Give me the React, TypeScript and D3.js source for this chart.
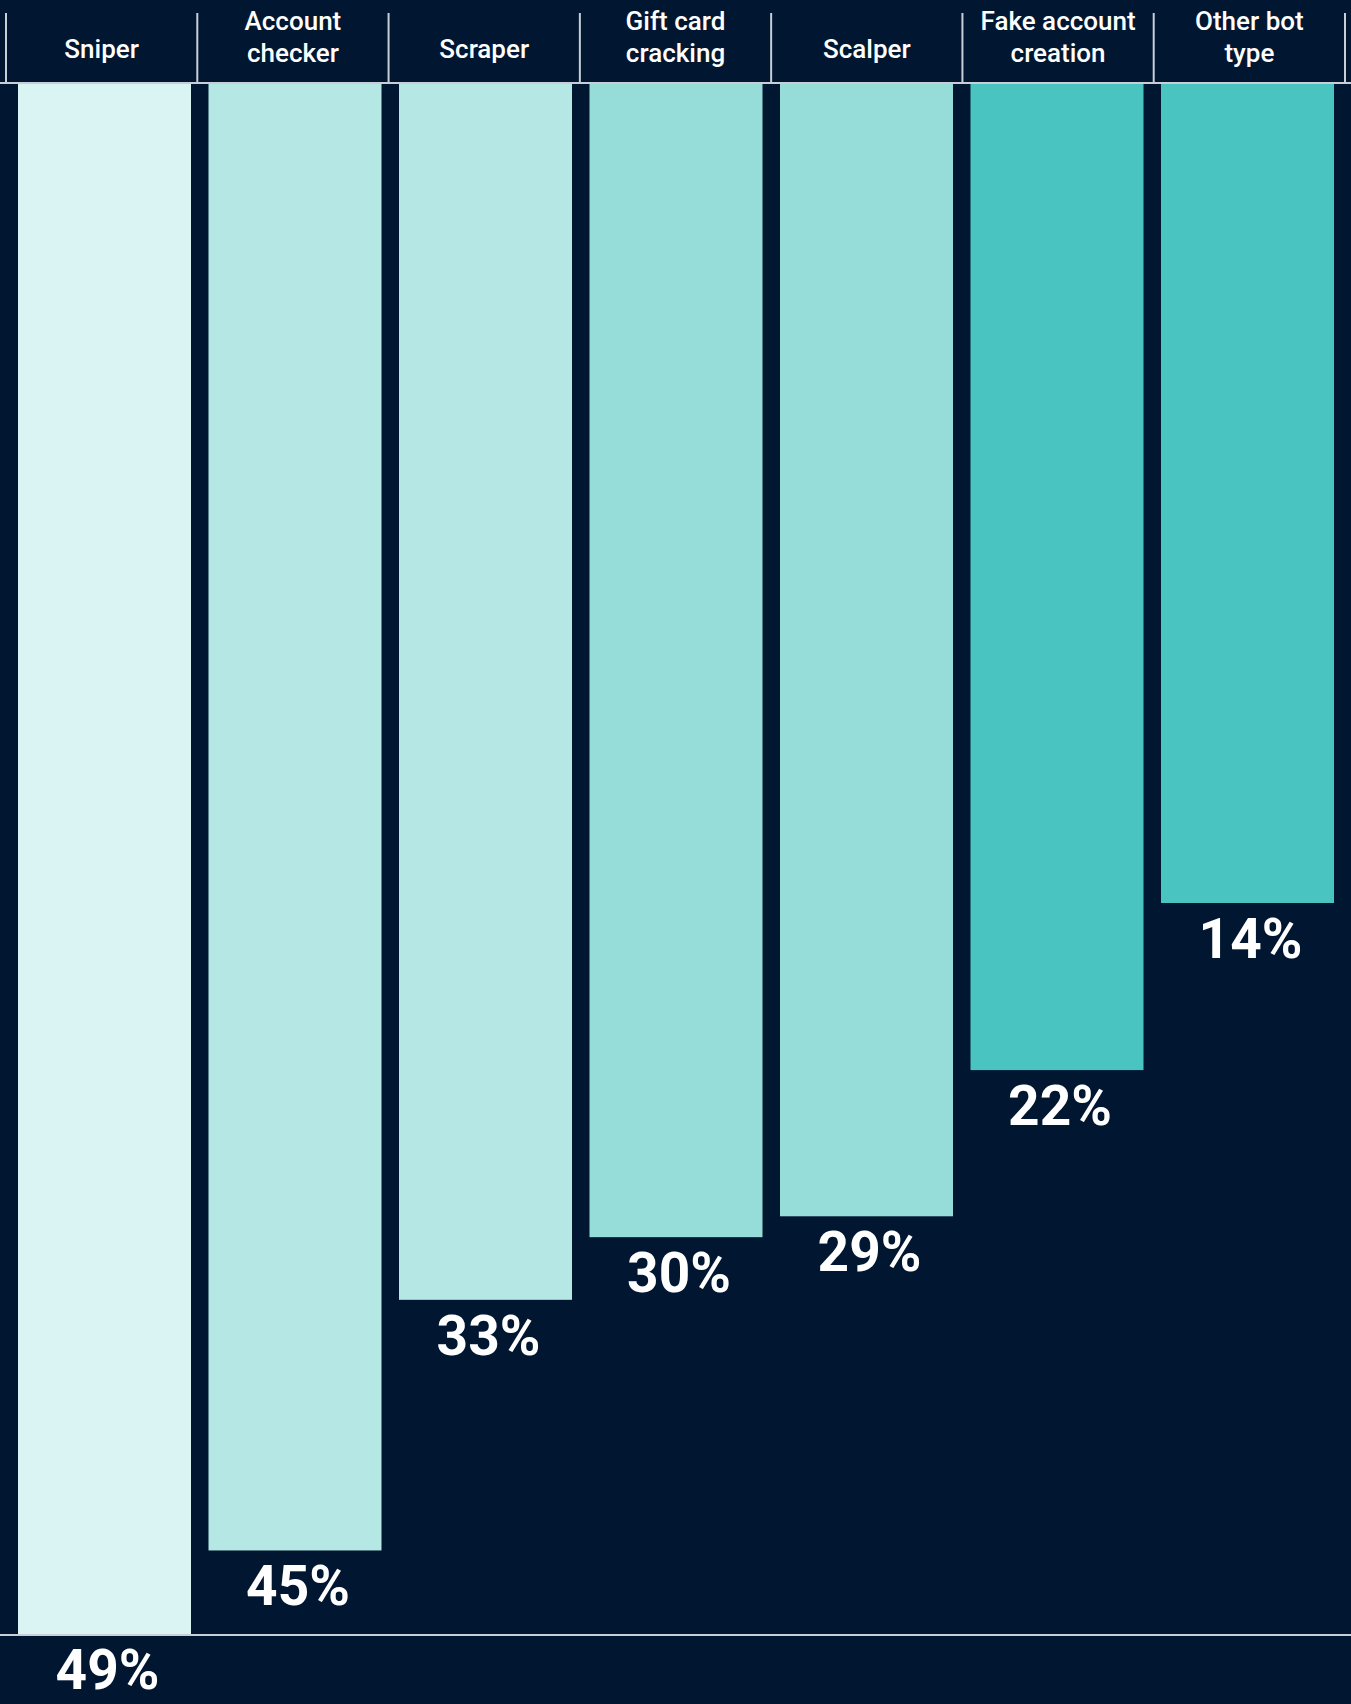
import React from "react";
import * as d3 from "d3";

const categories: string[] = [
  "Sniper",
  "Account\nchecker",
  "Scraper",
  "Gift card\ncracking",
  "Scalper",
  "Fake account\ncreation",
  "Other bot\ntype",
];
const values: number[] = [49, 45, 33, 30, 29, 22, 14];
const barColors: string[] = [
  "#DAF3F3",
  "#B5E7E4",
  "#B5E7E4",
  "#96DDD9",
  "#96DDD9",
  "#4AC4C0",
  "#4AC4C0",
];

const W = 1351;
const H = 1704;
const BG = "#011731";
const LINE = "#C9CFD6";
const headerTop = 13;
const headerBottom = 83;
const barTop = 84;
const baselineY = 1635;

export default function App() {
  const cols = d3.scaleBand<string>().domain(categories).range([6, 1345]).padding(0);
  const bars = d3
    .scaleBand<string>()
    .domain(categories)
    .range([9.25, 1342.75])
    .paddingInner(17.5 / 190.5)
    .paddingOuter(17.5 / 190.5 / 2);
  const y = d3.scaleLinear().domain([14, 49]).range([903, 1634]);

  const dividers = [...categories.map((c) => cols(c) as number), 1345];

  return (
    <svg
      width={W}
      height={H}
      style={{ position: "absolute", left: 0, top: 0, display: "block" }}
      fontFamily="Roboto, 'Noto Sans', sans-serif"
    >
      <rect x={0} y={0} width={W} height={H} fill={BG} />
      {/* header dividers */}
      {dividers.map((dx, i) => (
        <line key={"d" + i} x1={dx} x2={dx} y1={headerTop} y2={headerBottom} stroke={LINE} strokeWidth={2} />
      ))}
      <line x1={0} x2={W} y1={headerBottom} y2={headerBottom} stroke={LINE} strokeWidth={2} />
      {/* header labels */}
      {categories.map((c) => {
        const lines = c.split("\n");
        const cx = (cols(c) as number) + cols.bandwidth() / 2;
        const baselines = lines.length === 1 ? [58] : [29.5, 62];
        return (
          <text key={"h" + c} textAnchor="middle" fill="#FFFFFF" fontSize={26} fontWeight={500}>
            {lines.map((l, j) => (
              <tspan key={j} x={cx} y={baselines[j]}>
                {l}
              </tspan>
            ))}
          </text>
        );
      })}
      {/* bars */}
      {categories.map((c, i) => (
        <rect
          key={"b" + c}
          x={bars(c) as number}
          y={barTop}
          width={bars.bandwidth()}
          height={y(values[i]) - barTop}
          fill={barColors[i]}
        />
      ))}
      {/* baseline */}
      <line x1={0} x2={W} y1={baselineY} y2={baselineY} stroke={LINE} strokeWidth={2} />
      {/* value labels */}
      {categories.map((c, i) => (
        <text
          key={"v" + c}
          x={(bars(c) as number) + bars.bandwidth() / 2 + 3}
          y={y(values[i]) + 55}
          textAnchor="middle"
          fill="#FFFFFF"
          fontSize={55}
          fontWeight={700}
        >
          {values[i]}%
        </text>
      ))}
    </svg>
  );
}
